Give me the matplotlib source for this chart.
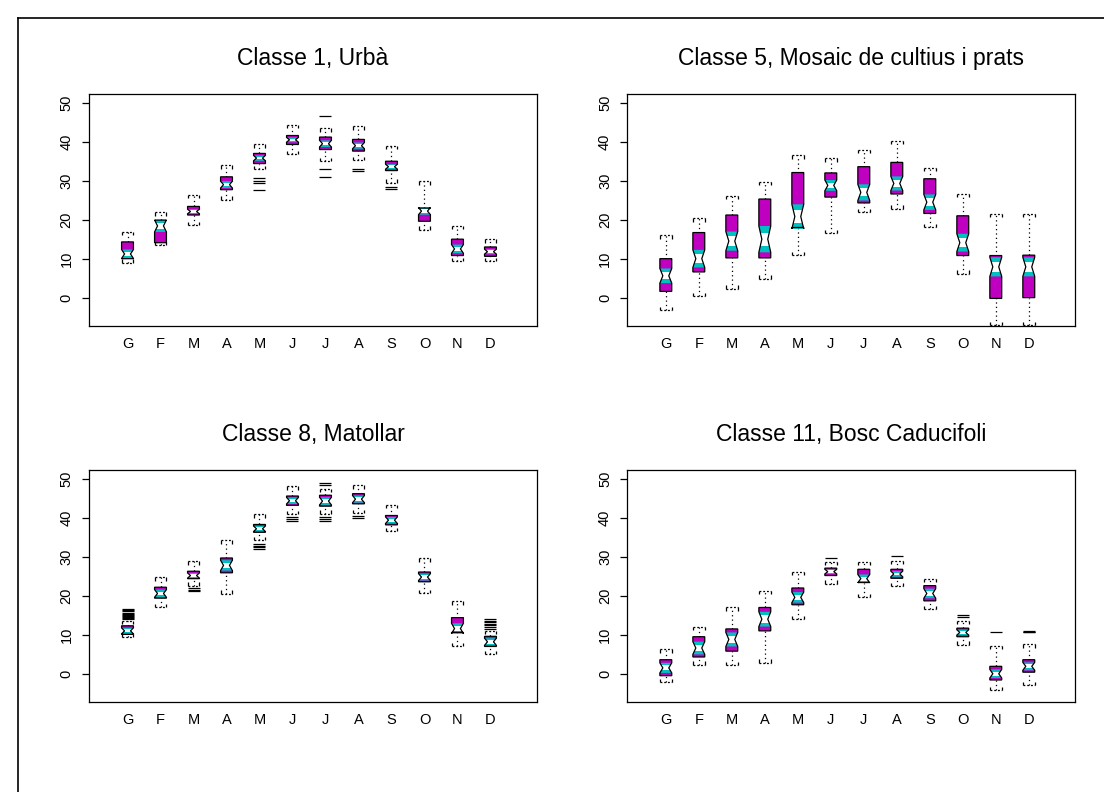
import numpy as np
import matplotlib
matplotlib.use("Agg")
import matplotlib.pyplot as plt
from matplotlib.patches import Polygon, Rectangle
from matplotlib.lines import Line2D

plt.rcParams["font.family"] = ["Liberation Sans", "DejaVu Sans"]

MONTHS = ["G", "F", "M", "A", "M", "J", "J", "A", "S", "O", "N", "D"]
TITLES = ["Classe 1, Urbà", "Classe 5, Mosaic de cultius i prats",
          "Classe 8, Matollar", "Classe 11, Bosc Caducifoli"]

# monthly box statistics per class: lower whisker, Q1, median, Q3, upper whisker
urba_lo  = [8.9, 13.4, 18.6, 25.1, 33.0, 36.8, 35.0, 35.2, 29.5, 17.4, 9.3, 9.3]
urba_q1  = [10.0, 14.1, 21.2, 27.7, 34.4, 39.3, 38.0, 37.6, 32.6, 19.6, 10.8, 10.6]
urba_med = [11.2, 18.4, 22.1, 29.0, 35.8, 40.5, 39.5, 39.0, 33.6, 22.2, 12.5, 11.8]
urba_q3  = [14.3, 19.9, 23.4, 31.0, 37.0, 41.6, 41.2, 40.6, 35.0, 23.0, 15.0, 13.0]
urba_hi  = [16.9, 21.9, 26.4, 34.0, 39.3, 44.3, 43.5, 44.0, 39.0, 29.8, 18.4, 15.0]
urba_out = [[], [], [], [], [30.8, 30.0, 29.3, 27.7], [], [46.5, 33.0, 31.0],
            [33.0, 32.5], [28.5, 28.0], [], [], []]

mosaic_lo  = [-3.2, 0.4, 2.3, 4.9, 10.9, 16.5, 21.9, 22.8, 18.0, 6.1, -7.1, -7.1]
mosaic_q1  = [1.6, 6.6, 10.2, 10.2, 18.0, 25.8, 24.3, 26.6, 21.6, 10.8, -0.2, 0.0]
mosaic_med = [5.6, 10.0, 14.5, 15.0, 20.8, 28.8, 27.0, 29.3, 24.5, 14.1, 7.9, 7.9]
mosaic_q3  = [10.0, 16.7, 21.2, 25.3, 32.1, 32.0, 33.6, 34.7, 30.5, 21.0, 10.8, 10.9]
mosaic_hi  = [16.0, 20.4, 26.2, 29.7, 36.6, 35.8, 38.0, 40.2, 33.3, 26.7, 21.5, 21.5]
mosaic_out = [[] for _ in range(12)]

matollar_lo  = [9.3, 17.0, 22.6, 20.5, 34.3, 40.9, 41.0, 41.2, 36.6, 20.7, 7.0, 5.0]
matollar_q1  = [10.1, 19.4, 24.4, 25.9, 36.3, 43.2, 43.0, 43.6, 38.2, 23.6, 10.6, 7.0]
matollar_med = [11.0, 20.6, 25.2, 27.8, 37.2, 44.4, 44.3, 44.8, 39.4, 24.8, 11.6, 8.2]
matollar_q3  = [12.3, 22.2, 26.3, 29.7, 38.3, 45.6, 45.8, 46.2, 40.6, 26.1, 14.4, 9.6]
matollar_hi  = [13.6, 24.8, 28.9, 34.2, 40.9, 48.1, 47.5, 48.3, 43.4, 29.6, 18.6, 11.0]
matollar_out = [[14.0, 14.3, 14.6, 14.9, 15.2, 15.4, 15.7, 16.0, 16.3, 16.6],
                [], [21.9, 21.5, 21.2], [], [33.4, 32.9, 32.4, 32.0],
                [40.1, 39.6, 39.1], [48.3, 49.0, 40.2, 39.6, 39.1], [40.4, 39.9],
                [], [], [], [11.6, 12.0, 12.4, 12.8, 13.2, 13.6, 14.0]]

bosc_lo  = [-2.2, 2.3, 2.2, 2.8, 14.0, 23.1, 19.6, 22.5, 16.6, 7.5, -4.3, -2.9]
bosc_q1  = [-0.5, 4.3, 5.8, 11.0, 17.7, 25.2, 23.4, 24.5, 18.7, 9.5, -1.6, 0.4]
bosc_med = [1.5, 6.6, 8.8, 14.0, 19.6, 26.2, 24.4, 25.6, 20.6, 10.6, 0.0, 1.9]
bosc_q3  = [3.6, 9.5, 11.5, 17.0, 22.0, 27.1, 26.8, 26.8, 22.6, 11.7, 1.9, 3.6]
bosc_hi  = [6.3, 12.1, 17.0, 21.3, 26.2, 28.7, 28.7, 29.0, 24.4, 13.6, 7.2, 7.6]
bosc_out = [[], [], [], [], [], [29.7], [], [30.1], [], [15.0, 14.5],
            [10.6], [10.6, 10.8, 11.0]]

# sample size behind each class (sets the notch half-height 1.58*IQR/sqrt(n))
n_pixels = [35, 50, 20, 25]

PANELS = [
    (urba_lo, urba_q1, urba_med, urba_q3, urba_hi, urba_out),
    (mosaic_lo, mosaic_q1, mosaic_med, mosaic_q3, mosaic_hi, mosaic_out),
    (matollar_lo, matollar_q1, matollar_med, matollar_q3, matollar_hi, matollar_out),
    (bosc_lo, bosc_q1, bosc_med, bosc_q3, bosc_hi, bosc_out),
]

MAGENTA = "#c000c0"
CYAN = "#00c0c0"
HW = 0.18  # half box width in x units


def notched_box(ax, x, lo, q1, med, q3, hi, nh):
    nlo, nhi = med - nh, med + nh
    outline = [(x - HW, q1), (x - HW, nlo), (x - HW / 2, med), (x - HW, nhi),
               (x - HW, q3), (x + HW, q3), (x + HW, nhi), (x + HW / 2, med),
               (x + HW, nlo), (x + HW, q1)]
    ax.add_patch(Polygon(outline, closed=True, facecolor=MAGENTA, edgecolor="none", zorder=2))
    notch = [(x - HW, nlo), (x - HW / 2, med), (x - HW, nhi),
             (x + HW, nhi), (x + HW / 2, med), (x + HW, nlo)]
    npatch = Polygon(notch, closed=True, facecolor=CYAN, edgecolor="none", zorder=3)
    ax.add_patch(npatch)
    band = Rectangle((x - HW, med - 0.5 * nh), 2 * HW, 1.0 * nh,
                     facecolor="white", edgecolor="none", zorder=4)
    ax.add_patch(band)
    band.set_clip_path(npatch)
    ax.add_patch(Polygon(outline, closed=True, facecolor="none", edgecolor="black",
                         linewidth=0.9, zorder=5))
    # whiskers and staples
    ax.vlines(x, q3, hi, colors="black", linestyles=(0, (1, 2.5)), linewidth=0.9, zorder=1)
    ax.vlines(x, lo, q1, colors="black", linestyles=(0, (1, 2.5)), linewidth=0.9, zorder=1)
    for y, d in ((hi, -0.9), (lo, 0.9)):
        ax.hlines(y, x - HW, x + HW, colors="black", linestyles=(0, (1.5, 1.5)), linewidth=0.9)
        ax.vlines([x - HW, x + HW], y, y + d, colors="black", linewidth=0.9)


fig = plt.figure(figsize=(11.04, 7.92), dpi=100)

rects = [
    (89 / 1104, 1 - 325.7 / 792),
    (627.3 / 1104, 1 - 325.7 / 792),
    (89 / 1104, 1 - 701.8 / 792),
    (627.3 / 1104, 1 - 701.8 / 792),
]
title_y = [1 - 58 / 792, 1 - 58 / 792, 1 - 435 / 792, 1 - 435 / 792]
W, H = 448 / 1104, 231.5 / 792

xs = np.arange(1, 13)
for k, (lo, q1, med, q3, hi, out) in enumerate(PANELS):
    ax = fig.add_axes([rects[k][0], rects[k][1], W, H])
    for i, x in enumerate(xs):
        iqr = q3[i] - q1[i]
        nh = 1.58 * iqr / np.sqrt(n_pixels[k])
        notched_box(ax, x, lo[i], q1[i], med[i], q3[i], hi[i], nh)
        if out[i]:
            ax.plot([x] * len(out[i]), out[i], linestyle="none", marker="_",
                    markersize=9, markeredgewidth=0.9, color="black", zorder=6)
    ax.set_xlim(-0.167, 13.41)
    ax.set_ylim(-7.2, 52.2)
    ax.set_xticks(xs)
    ax.set_xticklabels(MONTHS, fontsize=10.5)
    ax.set_yticks([0, 10, 20, 30, 40, 50])
    ax.set_yticklabels(["0", "10", "20", "30", "40", "50"], fontsize=10.5,
                       rotation=90, va="center")
    ax.tick_params(axis="x", length=0, pad=8)
    ax.tick_params(axis="y", length=5, width=0.9, pad=6)
    for s in ax.spines.values():
        s.set_linewidth(0.9)
    cx = rects[k][0] + W / 2
    fig.text(cx, title_y[k], TITLES[k], ha="center", va="center", fontsize=16.5)

# outer frame
fig.add_artist(Line2D([18 / 1104, 1], [1 - 18 / 792, 1 - 18 / 792], color="black", linewidth=1.2))
fig.add_artist(Line2D([18 / 1104, 18 / 1104], [0, 1 - 18 / 792], color="black", linewidth=1.2))

fig.savefig("out.png", dpi=100)
